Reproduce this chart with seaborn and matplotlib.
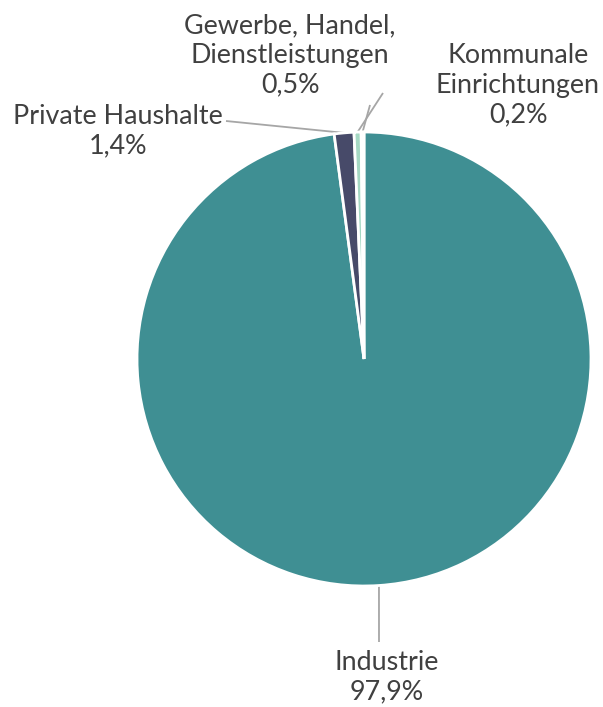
import numpy as np
import matplotlib
matplotlib.use("Agg")
import matplotlib.pyplot as plt
import seaborn as sns

# Energy consumption by sector (share in percent)
sectors = ["Industrie", "Private Haushalte", "Gewerbe, Handel,\nDienstleistungen", "Kommunale\nEinrichtungen"]
shares = [97.9, 1.4, 0.5, 0.2]
share_labels = ["97,9%", "1,4%", "0,5%", "0,2%"]
colors = ["#3f8f93", "#474a69", "#a5d8c3", "#d9ece4"]

sns.set_theme(style="white")
plt.rcParams["font.family"] = ["Lato", "DejaVu Sans"]

W, H = 603, 707
fig = plt.figure(figsize=(W / 100, H / 100), dpi=100)
ax = fig.add_axes([0, 0, 1, 1])

cx, cy, r = 364, H - 359, 227
wedges, _ = ax.pie(shares, colors=colors, startangle=90, counterclock=False,
                   center=(cx, cy), radius=r,
                   wedgeprops=dict(edgecolor="white", linewidth=2.0))
ax.set_xlim(0, W)
ax.set_ylim(0, H)
ax.set_aspect("equal")
ax.axis("off")

text_color = "#404040"
line_color = "#a6a6a6"
fs = 19.4

# label anchor (text centre) and the start of each leader line, in pixel units
label_pos = [(387, 677), (118, 131), (290, 55), (518, 85)]
leader_start = [(379, 642), (226, 121), (383, 93), (370, 105)]

for w, name, pct, (lx, ly), (sx, sy) in zip(wedges, sectors, share_labels, label_pos, leader_start):
    ang = np.deg2rad((w.theta1 + w.theta2) / 2)
    ex, ey = cx + r * np.cos(ang), cy + r * np.sin(ang)
    ax.plot([sx, ex], [H - sy, ey], color=line_color, lw=1.3, solid_capstyle="butt", zorder=0)
    ax.text(lx, H - ly, f"{name}\n{pct}", ha="center", va="center",
            fontsize=fs, color=text_color, linespacing=1.22)

fig.savefig("out.png", dpi=100, facecolor="white")
